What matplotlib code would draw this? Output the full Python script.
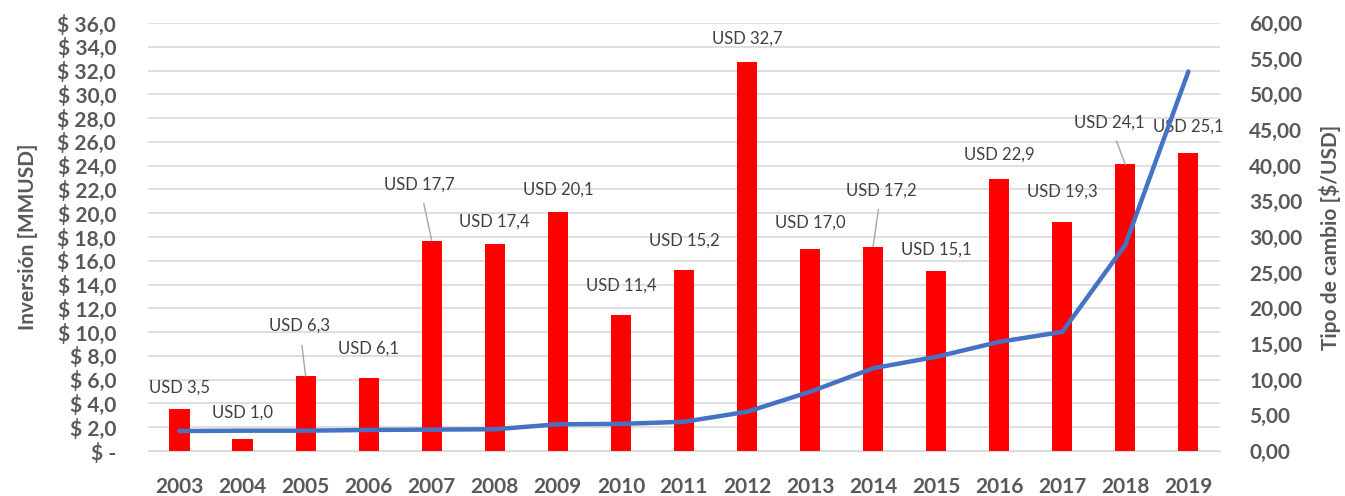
import numpy as np
import matplotlib
matplotlib.use("Agg")
import matplotlib.pyplot as plt
from matplotlib.ticker import MultipleLocator, FuncFormatter

plt.rc("font", family=["Lato", "DejaVu Sans"])

years = ["2003", "2004", "2005", "2006", "2007", "2008", "2009", "2010", "2011",
         "2012", "2013", "2014", "2015", "2016", "2017", "2018", "2019"]
inversion = [3.5, 1.0, 6.3, 6.1, 17.7, 17.4, 20.1, 11.4, 15.2,
             32.7, 17.0, 17.2, 15.1, 22.9, 19.3, 24.1, 25.1]
tipo_cambio = [2.8, 2.85, 2.85, 2.95, 3.0, 3.05, 3.75, 3.8, 4.1,
               5.5, 8.3, 11.6, 13.2, 15.3, 16.7, 28.9, 53.2]

# label offsets in pixels (dx, dy) from bar top, and whether a leader line is drawn
label_offsets = [(0, 22), (0, 26), (-6, 50), (0, 30), (-12, 56), (0, 22), (0, 22),
                 (0, 30), (0, 30), (0, 24), (0, 26), (8, 56), (0, 22), (0, 24),
                 (0, 30), (-16, 42), (0, 26)]
leaders = [False, False, True, False, True, False, False, False, False,
           False, False, True, False, False, False, True, False]

grey = "#595959"
x = np.arange(len(years))

fig = plt.figure(figsize=(13.45, 4.96), dpi=100)
ax = fig.add_axes([0.110, 0.0907, 0.797, 0.863])
ax2 = ax.twinx()

ax.bar(x, inversion, width=0.32, color="#FF0000", zorder=2)
ax2.plot(x, tipo_cambio, color="#4472C4", lw=3.2, solid_capstyle="round", zorder=3)

ax.set_xlim(-0.5, len(years) - 0.5)
ax.set_ylim(0, 36)
ax2.set_ylim(0, 60)
ax.yaxis.set_major_locator(MultipleLocator(2))
ax2.yaxis.set_major_locator(MultipleLocator(5))
ax.yaxis.set_major_formatter(FuncFormatter(
    lambda v, p: "\\$ -" if v == 0 else "\\$ " + f"{v:.1f}".replace(".", ",")))
ax2.yaxis.set_major_formatter(FuncFormatter(lambda v, p: f"{v:.2f}".replace(".", ",")))
ax.grid(axis="y", color="#D9D9D9", lw=1.2, zorder=0)
ax.set_axisbelow(True)

ax.set_xticks(x)
ax.set_xticklabels(years)
for a in (ax, ax2):
    for s in a.spines.values():
        s.set_visible(False)
    a.tick_params(length=0, colors=grey)
ax.spines["bottom"].set_visible(True)
ax.spines["bottom"].set_color("#D9D9D9")
ax.tick_params(axis="x", pad=19, labelsize=15)
ax.tick_params(axis="y", pad=23, labelsize=15)
ax2.tick_params(axis="y", pad=21, labelsize=15)
for lab in ax.get_xticklabels() + ax.get_yticklabels() + ax2.get_yticklabels():
    lab.set_fontweight("bold")
    lab.set_color(grey)

ax.set_ylabel("Inversión [MMUSD]", fontsize=15, fontweight="bold", color=grey, labelpad=14)
ax2.set_ylabel("Tipo de cambio [\\$/USD]", fontsize=15, fontweight="bold", color=grey, labelpad=12)

for i, v in enumerate(inversion):
    dx, dy = label_offsets[i]
    txt = "USD " + f"{v:.1f}".replace(".", ",")
    props = dict(arrowstyle="-", color="#A6A6A6", lw=1, shrinkA=6, shrinkB=0) if leaders[i] else None
    ax.annotate(txt, (x[i], v), xytext=(dx, dy), textcoords="offset pixels",
                ha="center", va="center", fontsize=12, color="#404040",
                arrowprops=props, zorder=4)

fig.savefig("out.png", dpi=100)
